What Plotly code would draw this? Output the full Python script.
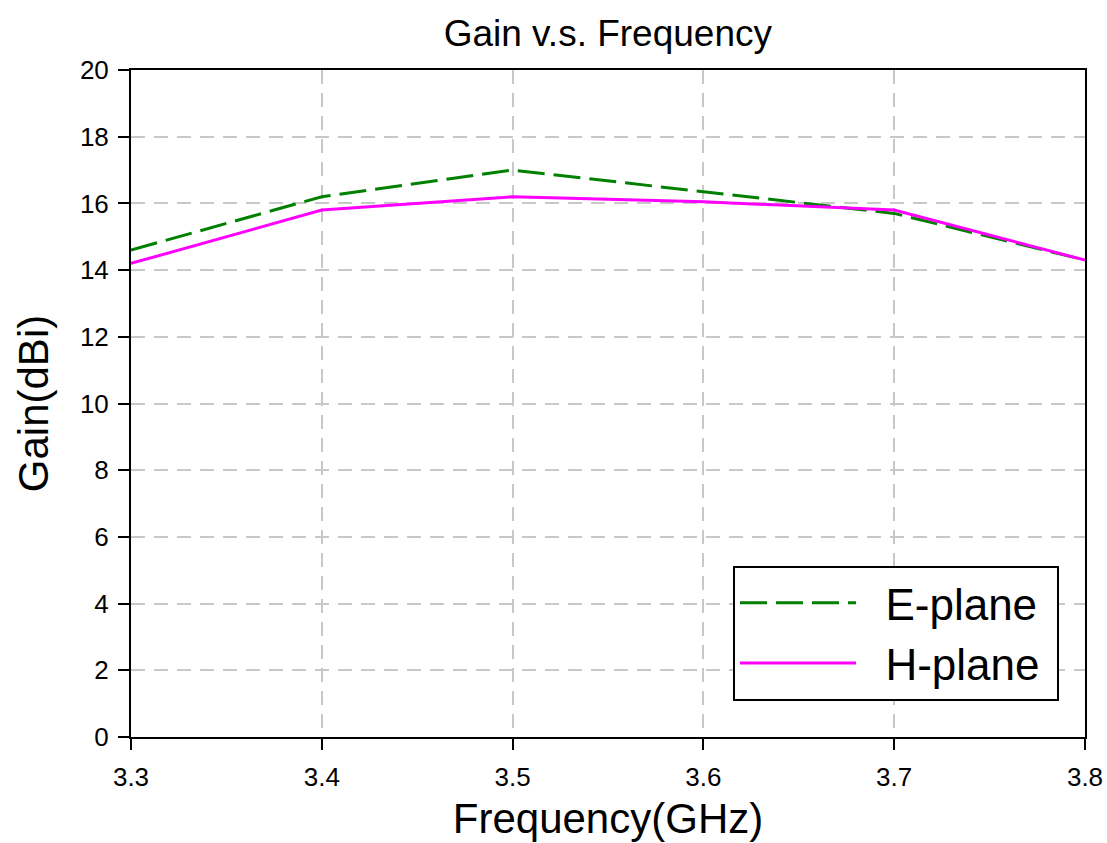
import plotly.graph_objects as go

freq = [3.3, 3.4, 3.5, 3.6, 3.7, 3.8]
e_plane = [14.6, 16.2, 17.0, 16.35, 15.7, 14.3]
h_plane = [14.2, 15.8, 16.2, 16.05, 15.8, 14.3]

x_ticks = [3.3, 3.4, 3.5, 3.6, 3.7, 3.8]
y_ticks = list(range(0, 21, 2))

FONT = "Liberation Sans, Arial, sans-serif"
NB = "\u00a0"

fig = go.Figure()
fig.add_trace(go.Scatter(x=freq, y=e_plane, mode="lines", name=NB * 2 + "E-plane" + NB,
                         line=dict(color="#008000", width=3, dash="27px,9px")))
fig.add_trace(go.Scatter(x=freq, y=h_plane, mode="lines", name=NB * 2 + "H-plane" + NB,
                         line=dict(color="#ff00ff", width=3)))

fig.update_layout(
    width=1107, height=843,
    margin=dict(l=131, r=22, t=70, b=106),
    paper_bgcolor="white", plot_bgcolor="white",
    font=dict(family=FONT, color="black"),
    title=dict(text="Gain v.s. Frequency", x=0.5491, xanchor="center",
               y=0.961, yanchor="middle", font=dict(size=37, color="black")),
    showlegend=True,
    legend=dict(x=0.631, y=0.257, xanchor="left", yanchor="top",
                bgcolor="white", bordercolor="black", borderwidth=2,
                font=dict(size=44, family=FONT, color="black"),
                itemwidth=116, tracegroupgap=0),
)
fig.update_xaxes(
    range=[3.3, 3.8], tickvals=x_ticks, ticktext=[f"{v:.1f}" for v in x_ticks],
    showline=True, linecolor="black", linewidth=2, mirror=True,
    ticks="outside", ticklen=11, tickcolor="black", tickwidth=2,
    tickfont=dict(size=26, color="black"), ticklabelstandoff=5,
    showgrid=True, gridcolor="#c8c8c8", gridwidth=2, griddash="14px,9px",
    zeroline=False, automargin=False,
    title=dict(text="Frequency(GHz)", font=dict(size=42, color="black"), standoff=12),
)
fig.update_yaxes(
    range=[0, 20], tickvals=y_ticks,
    showline=True, linecolor="black", linewidth=2, mirror=True,
    ticks="outside", ticklen=11, tickcolor="black", tickwidth=2,
    tickfont=dict(size=26, color="black"), ticklabelstandoff=4,
    showgrid=True, gridcolor="#c8c8c8", gridwidth=2, griddash="14px,9px",
    zeroline=False, automargin=False,
    title=dict(text="Gain(dBi)", font=dict(size=42, color="black"), standoff=18),
)

fig.write_html("out.html")
